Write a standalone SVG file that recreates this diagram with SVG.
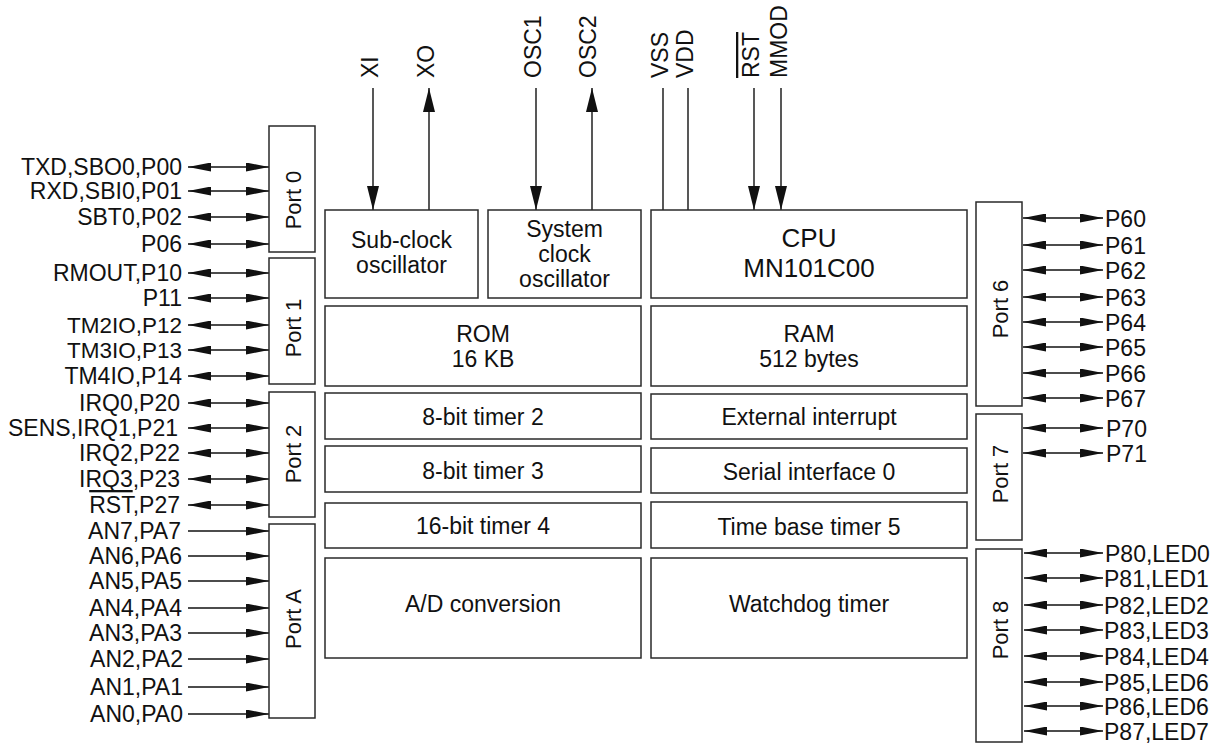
<svg xmlns="http://www.w3.org/2000/svg" width="1223" height="751" viewBox="0 0 1223 751">
<style>
text{font-family:"Liberation Sans",Arial,sans-serif;font-size:23px;fill:#111}
.box{fill:#fff;stroke:#2a2a2a;stroke-width:1.5}
.c{text-anchor:middle}
.e{text-anchor:end}
.tm{font-size:22.5px}
.port{font-size:22px;text-anchor:middle}
.cpu{font-size:26px;text-anchor:middle}
.w{stroke:#111;stroke-width:1.4;fill:none}
.bi{marker-start:url(#ah);marker-end:url(#ah)}
.un{marker-end:url(#ah)}
.dn{marker-end:url(#av)}
.ol{text-decoration:overline}
</style>
<defs>
<marker id="ah" markerUnits="userSpaceOnUse" markerWidth="23" markerHeight="9" refX="23" refY="4.5" orient="auto-start-reverse"><path d="M0,0 L23,4.5 L0,9 Z" fill="#111"/></marker>
<marker id="av" markerUnits="userSpaceOnUse" markerWidth="24" markerHeight="12" refX="24" refY="6" orient="auto-start-reverse"><path d="M0,0 L24,6 L0,12 Z" fill="#111"/></marker>
</defs>

<g id="connectors">
<line class="w dn" x1="373" y1="88" x2="373" y2="210"/>
<line class="w dn" x1="429" y1="210" x2="429" y2="88"/>
<line class="w dn" x1="536" y1="88" x2="536" y2="210"/>
<line class="w dn" x1="592" y1="210" x2="592" y2="88"/>
<line class="w" x1="663" y1="88" x2="663" y2="210"/>
<line class="w" x1="688" y1="88" x2="688" y2="210"/>
<line class="w dn" x1="754" y1="88" x2="754" y2="210"/>
<line class="w dn" x1="781" y1="88" x2="781" y2="210"/>
<line class="w bi" x1="188" y1="167" x2="269" y2="167"/>
<line class="w bi" x1="188" y1="191" x2="269" y2="191"/>
<line class="w bi" x1="188" y1="217" x2="269" y2="217"/>
<line class="w bi" x1="188" y1="244" x2="269" y2="244"/>
<line class="w bi" x1="188" y1="273" x2="269" y2="273"/>
<line class="w bi" x1="188" y1="298" x2="269" y2="298"/>
<line class="w bi" x1="188" y1="325" x2="269" y2="325"/>
<line class="w bi" x1="188" y1="350" x2="269" y2="350"/>
<line class="w bi" x1="188" y1="376" x2="269" y2="376"/>
<line class="w bi" x1="188" y1="403" x2="269" y2="403"/>
<line class="w bi" x1="188" y1="428" x2="269" y2="428"/>
<line class="w bi" x1="188" y1="453" x2="269" y2="453"/>
<line class="w bi" x1="188" y1="479" x2="269" y2="479"/>
<line class="w bi" x1="188" y1="505" x2="269" y2="505"/>
<line class="w un" x1="188" y1="531" x2="269" y2="531"/>
<line class="w un" x1="188" y1="556" x2="269" y2="556"/>
<line class="w un" x1="188" y1="581" x2="269" y2="581"/>
<line class="w un" x1="188" y1="608" x2="269" y2="608"/>
<line class="w un" x1="188" y1="633" x2="269" y2="633"/>
<line class="w un" x1="188" y1="659" x2="269" y2="659"/>
<line class="w un" x1="188" y1="687" x2="269" y2="687"/>
<line class="w un" x1="188" y1="714" x2="269" y2="714"/>
<line class="w bi" x1="1023" y1="218" x2="1103" y2="218"/>
<line class="w bi" x1="1023" y1="245" x2="1103" y2="245"/>
<line class="w bi" x1="1023" y1="270" x2="1103" y2="270"/>
<line class="w bi" x1="1023" y1="297" x2="1103" y2="297"/>
<line class="w bi" x1="1023" y1="322" x2="1103" y2="322"/>
<line class="w bi" x1="1023" y1="347" x2="1103" y2="347"/>
<line class="w bi" x1="1023" y1="373" x2="1103" y2="373"/>
<line class="w bi" x1="1023" y1="398" x2="1103" y2="398"/>
<line class="w bi" x1="1023" y1="428" x2="1103" y2="428"/>
<line class="w bi" x1="1023" y1="453" x2="1103" y2="453"/>
<line class="w bi" x1="1024" y1="553" x2="1103" y2="553"/>
<line class="w bi" x1="1024" y1="578" x2="1103" y2="578"/>
<line class="w bi" x1="1024" y1="605" x2="1103" y2="605"/>
<line class="w bi" x1="1024" y1="630" x2="1103" y2="630"/>
<line class="w bi" x1="1024" y1="656" x2="1103" y2="656"/>
<line class="w bi" x1="1024" y1="682" x2="1103" y2="682"/>
<line class="w bi" x1="1024" y1="706" x2="1103" y2="706"/>
<line class="w bi" x1="1024" y1="731" x2="1103" y2="731"/>
</g>

<g id="top-labels">
<text transform="translate(378,78) rotate(-90)">XI</text>
<text transform="translate(434,78) rotate(-90)">XO</text>
<text transform="translate(541,78) rotate(-90)">OSC1</text>
<text transform="translate(596,78) rotate(-90)">OSC2</text>
<text transform="translate(668,78) rotate(-90)">VSS</text>
<text transform="translate(693,78) rotate(-90)">VDD</text>
<text transform="translate(759,78) rotate(-90)"><tspan class="ol">RST</tspan></text>
<text transform="translate(787,78) rotate(-90)">MMOD</text>
</g>

<g id="left-labels">
<text class="e" x="182" y="175">TXD,SBO0,P00</text>
<text class="e" x="182" y="199">RXD,SBI0,P01</text>
<text class="e" x="182" y="225">SBT0,P02</text>
<text class="e" x="182" y="252">P06</text>
<text class="e" x="182" y="281">RMOUT,P10</text>
<text class="e" x="182" y="306">P11</text>
<text class="e tm" x="182" y="332.5">TM2IO,P12</text>
<text class="e tm" x="182" y="358">TM3IO,P13</text>
<text class="e" x="182" y="384">TM4IO,P14</text>
<text class="e" x="180" y="411">IRQ0,P20</text>
<text class="e" x="178" y="436">SENS,IRQ1,P21</text>
<text class="e" x="180" y="461">IRQ2,P22</text>
<text class="e" x="180" y="487">IRQ3,P23</text>
<text class="e" x="180" y="513"><tspan class="ol">RST</tspan>,P27</text>
<text class="e" x="181" y="539">AN7,PA7</text>
<text class="e" x="182" y="564">AN6,PA6</text>
<text class="e" x="182" y="589">AN5,PA5</text>
<text class="e" x="182" y="616">AN4,PA4</text>
<text class="e" x="182" y="641">AN3,PA3</text>
<text class="e" x="183" y="667">AN2,PA2</text>
<text class="e" x="183" y="695">AN1,PA1</text>
<text class="e" x="183" y="722">AN0,PA0</text>
</g>

<g id="right-labels">
<text x="1105" y="227">P60</text>
<text x="1105" y="254">P61</text>
<text x="1105" y="279">P62</text>
<text x="1105" y="306">P63</text>
<text x="1105" y="331">P64</text>
<text x="1105" y="356">P65</text>
<text x="1105" y="382">P66</text>
<text x="1105" y="407">P67</text>
<text x="1106" y="437">P70</text>
<text x="1106" y="462">P71</text>
<text x="1105" y="562">P80,LED0</text>
<text x="1104" y="587">P81,LED1</text>
<text x="1104" y="614">P82,LED2</text>
<text x="1104" y="639">P83,LED3</text>
<text x="1104" y="665">P84,LED4</text>
<text x="1104" y="691">P85,LED6</text>
<text x="1104" y="715">P86,LED6</text>
<text x="1104" y="740">P87,LED7</text>
</g>

<g id="port0"><rect class="box" x="269" y="126" width="46" height="126"/><text class="port" transform="translate(301,200) rotate(-90)">Port 0</text></g>
<g id="port1"><rect class="box" x="269" y="258" width="46" height="126"/><text class="port" transform="translate(301,328) rotate(-90)">Port 1</text></g>
<g id="port2"><rect class="box" x="269" y="392" width="46" height="125"/><text class="port" transform="translate(301,454) rotate(-90)">Port 2</text></g>
<g id="portA"><rect class="box" x="269" y="524" width="46" height="194"/><text class="port" transform="translate(301,619) rotate(-90)">Port A</text></g>

<g id="port6"><rect class="box" x="976" y="202" width="46" height="204"/><text class="port" transform="translate(1008,309) rotate(-90)">Port 6</text></g>
<g id="port7"><rect class="box" x="976" y="414" width="46" height="126"/><text class="port" transform="translate(1008,474) rotate(-90)">Port 7</text></g>
<g id="port8"><rect class="box" x="976" y="549" width="46" height="193"/><text class="port" transform="translate(1008,630) rotate(-90)">Port 8</text></g>

<g id="subclock"><rect class="box" x="325" y="210" width="153" height="88"/><text class="c" x="401.5" y="248">Sub-clock</text><text class="c" x="401.5" y="273">oscillator</text></g>
<g id="sysclock"><rect class="box" x="488" y="210" width="153" height="88"/><text class="c" x="564.5" y="237">System</text><text class="c" x="564.5" y="262">clock</text><text class="c" x="564.5" y="287">oscillator</text></g>
<g id="cpu"><rect class="box" x="651" y="210" width="316" height="88"/><text class="cpu" x="809" y="247">CPU</text><text class="cpu" x="809" y="277">MN101C00</text></g>

<g id="rom"><rect class="box" x="325" y="306" width="316" height="80"/><text class="c" x="483" y="342">ROM</text><text class="c" x="483" y="367">16 KB</text></g>
<g id="ram"><rect class="box" x="651" y="306" width="316" height="80"/><text class="c" x="809" y="342">RAM</text><text class="c" x="809" y="367">512 bytes</text></g>

<g id="timer2"><rect class="box" x="325" y="393" width="316" height="46"/><text class="c" x="483" y="425">8-bit timer 2</text></g>
<g id="extint"><rect class="box" x="651" y="394" width="316" height="45"/><text class="c" x="809" y="425">External interrupt</text></g>
<g id="timer3"><rect class="box" x="325" y="446" width="316" height="46"/><text class="c" x="483" y="479">8-bit timer 3</text></g>
<g id="serial0"><rect class="box" x="651" y="448" width="316" height="45"/><text class="c" x="809" y="480">Serial interface 0</text></g>
<g id="timer4"><rect class="box" x="325" y="503" width="316" height="45"/><text class="c" x="483" y="534">16-bit timer 4</text></g>
<g id="timer5"><rect class="box" x="651" y="502" width="316" height="46"/><text class="c" x="809" y="535">Time base timer 5</text></g>

<g id="adc"><rect class="box" x="325" y="558" width="316" height="100"/><text class="c" x="483" y="612">A/D conversion</text></g>
<g id="wdt"><rect class="box" x="651" y="558" width="316" height="100"/><text class="c" x="809" y="612">Watchdog timer</text></g>
</svg>
